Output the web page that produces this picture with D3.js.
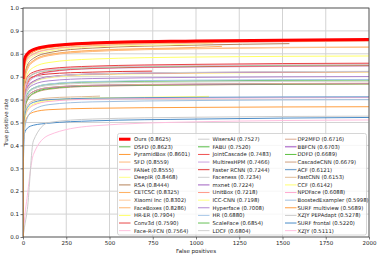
<!DOCTYPE html>
<html><head><meta charset="utf-8">
<script src="https://cdn.jsdelivr.net/npm/d3@7"></script>
<style>body{margin:0;background:#fff} svg{display:block} text{font-family:"DejaVu Sans",sans-serif;fill:#222}</style>
</head><body><svg id="c" width="382" height="255"></svg>
<script>
const methods = ["Ours","DSFD","PyramidBox","SFD","FANet","DeepIR","RSA","CETCSC","Xiaomi Inc","FaceBoxes","HR-ER","Conv3d","Face-R-FCN",
  "WisersAI","FABU","JointCascade","MultiresHPM","Faster RCNN","Faceness","mxnet","UnitBox","ICC-CNN","Hyperface","HR","ScaleFace","LDCF",
  "DP2MFD","BBFCN","DDFD","CascadeCNN","ACF","FastCNN","CCF","NPDFace","BoostedExampler","SURF multiview","XZJY PEPAdapt","SURF frontal","XZJY"];
const scores = [0.8625,0.8623,0.8601,0.8559,0.8555,0.8468,0.8444,0.8325,0.8302,0.8286,0.7904,0.7590,0.7564,
  0.7527,0.7520,0.7483,0.7466,0.7244,0.7234,0.7224,0.7218,0.7198,0.7008,0.6880,0.6854,0.6804,
  0.6716,0.6703,0.6689,0.6679,0.6121,0.6153,0.6142,0.6088,0.5998,0.5689,0.5278,0.5220,0.5111];
const fpGrid = [0,2,8,25,60,150,400,1000,2000];
const tpr = [
  [0.69,0.74,0.775,0.80,0.818,0.834,0.847,0.856,0.8625],
  [0.66,0.72,0.765,0.795,0.815,0.832,0.846,0.855,0.8623],
  [0.0,0.60,0.74,0.785,0.808,0.827,0.842,0.852,0.8601],
  [0.62,0.70,0.75,0.78,0.80,0.82,0.836,0.848,0.8559],
  [0.60,0.68,0.74,0.775,0.797,0.818,0.835,0.847,0.8555],
  [0.55,0.65,0.72,0.765,0.79,0.812,0.83,0.843,null],
  [0.50,0.62,0.70,0.75,0.78,0.805,0.825,0.838,null],
  [0.0,0.55,0.68,0.74,0.77,0.797,0.815,0.828,null],
  [0.50,0.60,0.68,0.74,0.77,0.795,0.813,0.824,0.8302],
  [0.45,0.58,0.67,0.73,0.765,0.792,0.81,0.822,0.8286],
  [0.55,0.62,0.67,0.71,0.74,0.762,0.777,0.786,0.7904],
  [0.50,0.60,0.66,0.70,0.72,0.735,0.746,0.754,0.7590],
  [0.48,0.58,0.64,0.69,0.715,0.732,0.744,0.751,0.7564],
  [0.45,0.56,0.63,0.68,0.71,0.728,0.74,0.748,0.7527],
  [0.50,0.60,0.65,0.69,0.712,0.728,0.74,0.747,0.7520],
  [0.45,0.55,0.62,0.67,0.70,0.722,0.736,0.744,0.7483],
  [0.40,0.52,0.60,0.66,0.695,0.72,0.735,0.742,0.7466],
  [0.50,0.60,0.65,0.68,0.70,0.712,0.72,null,null],
  [0.40,0.50,0.58,0.64,0.675,0.698,0.712,0.719,0.7234],
  [0.45,0.55,0.61,0.655,0.68,0.70,0.712,0.718,0.7224],
  [0.42,0.53,0.60,0.65,0.678,0.698,0.711,0.717,0.7218],
  [0.40,0.52,0.59,0.645,0.675,0.695,0.708,0.715,0.7198],
  [0.45,0.55,0.60,0.64,0.665,0.682,0.692,0.697,0.7008],
  [0.40,0.50,0.57,0.62,0.65,0.668,0.679,0.685,0.6880],
  [0.42,0.52,0.58,0.625,0.65,0.667,0.677,0.682,0.6854],
  [0.38,0.50,0.57,0.62,0.645,0.662,0.672,0.677,0.6804],
  [0.40,0.50,0.56,0.61,0.635,0.653,0.663,0.668,0.6716],
  [0.42,0.52,0.57,0.61,0.635,0.652,0.662,0.667,0.6703],
  [0.38,0.49,0.55,0.60,0.628,0.648,0.66,0.665,0.6689],
  [0.35,0.47,0.54,0.595,0.625,0.645,0.658,0.664,0.6679],
  [0.35,0.45,0.52,0.565,0.588,0.60,0.606,0.61,0.6121],
  [0.30,0.45,0.53,0.575,0.595,0.607,0.614,null,null],
  [0.30,0.42,0.50,0.555,0.58,0.597,0.607,0.613,null],
  [0.30,0.42,0.50,0.55,0.575,0.592,0.602,0.606,0.6088],
  [0.25,0.38,0.46,0.52,0.555,0.578,0.59,0.596,0.5998],
  [0.0,0.38,0.48,0.525,0.545,0.556,0.562,0.566,0.5689],
  [0.0,0.01,0.04,0.12,0.42,0.50,0.515,0.523,0.5278],
  [0.0,0.30,0.45,0.475,0.488,0.497,0.507,0.515,0.5220],
  [0.0,0.01,0.07,0.18,0.36,0.445,0.485,0.503,0.5111]
];
const tailFP = {"DeepIR":1100,"RSA":1540,"CETCSC":1150,"Faster RCNN":746,"FastCNN":445,"CCF":1075};
const tailTPR = {"DeepIR":0.8468,"RSA":0.8444,"CETCSC":0.8325,"Faster RCNN":0.7244,"FastCNN":0.6153,"CCF":0.6142};
const xTicks = [0,250,500,750,1000,1250,1500,1750,2000];
const yTicks = [0,0.1,0.2,0.3,0.4,0.5,0.6,0.7,0.8,0.9,1.0];
const colors = ["#ff0000","#66bb55","#ff9a33","#ffb87a","#f4a6c8","#ffff88","#b5825a","#ffb060","#ffc898","#ffb46e","#ffff66","#e84848","#ffc0dd",
  "#cccccc","#55bb44","#f05050","#c9a3e0","#e03838","#cfcfcf","#a060c0","#ff9a8a","#ffff80","#b088d0","#a8c8e8","#66c055","#d0d0d0",
  "#d8a890","#9c4fc0","#5cc040","#cfa080","#5f95c8","#e0bc98","#ffff70","#ffaad0","#a0c0e0","#ff9f40","#cccccc","#4a8cc8","#ffbfdf"];

const svg = d3.select("#c");
const L=23,R=369,T=8,B=237;
const x = d3.scaleLinear().domain([0,2000]).range([L,R]);
const y = d3.scaleLinear().domain([0,1]).range([B,T]);

// grid
svg.append("g").selectAll("line").data(xTicks).join("line")
  .attr("x1",d=>x(d)).attr("x2",d=>x(d)).attr("y1",T).attr("y2",B)
  .attr("stroke","#d3d3d3").attr("stroke-width",1);
svg.append("g").selectAll("line").data(yTicks).join("line")
  .attr("y1",d=>y(d)).attr("y2",d=>y(d)).attr("x1",L).attr("x2",R)
  .attr("stroke","#d3d3d3").attr("stroke-width",1);

svg.append("clipPath").attr("id","clip").append("rect").attr("x",L).attr("y",T).attr("width",R-L).attr("height",B-T);

const line = d3.line().x(d=>x(d[0])).y(d=>y(d[1])).curve(d3.curveMonotoneX);
const series = methods.map((m,i)=>{
  const pts=[];
  fpGrid.forEach((f,j)=>{ if(tpr[i][j]!==null) pts.push([f,tpr[i][j]]); });
  if(tailFP[m]!==undefined) pts.push([tailFP[m],tailTPR[m]]);
  return {m,i,pts};
});
const g = svg.append("g").attr("clip-path","url(#clip)");
const order = series.slice(1).reverse().concat([series[0]]);
g.selectAll("path").data(order).join("path")
  .attr("d",d=>line(d.pts)).attr("fill","none")
  .attr("stroke",d=>colors[d.i]).attr("stroke-width",d=>d.i===0?3:1);

// spines
svg.append("rect").attr("x",L).attr("y",T).attr("width",R-L).attr("height",B-T)
  .attr("fill","none").attr("stroke","#444").attr("stroke-width",0.8);

// axes
const xa = svg.append("g").attr("transform",`translate(0,${B})`)
  .call(d3.axisBottom(x).tickValues(xTicks).tickSize(2.5).tickPadding(1.5).tickFormat(d3.format("d")));
const ya = svg.append("g").attr("transform",`translate(${L},0)`)
  .call(d3.axisLeft(y).tickValues(yTicks).tickSize(2.5).tickPadding(1.5).tickFormat(d3.format(".1f")));
[xa,ya].forEach(a=>{a.select(".domain").remove();a.selectAll("line").attr("stroke","#444").attr("stroke-width",0.7);
  a.selectAll("text").attr("font-size",5.5).attr("font-family","DejaVu Sans").attr("fill","#222");});

svg.append("text").attr("x",(L+R)/2).attr("y",253).attr("text-anchor","middle").attr("font-size",5.5).text("False positives");
svg.append("text").attr("transform",`translate(8,${(T+B)/2}) rotate(-90)`).attr("text-anchor","middle").attr("font-size",5.5).text("True positive rate");

// legend
const lg = svg.append("g");
lg.append("rect").attr("x",117.5).attr("y",133.5).attr("width",249).attr("height",101.5).attr("rx",2)
  .attr("fill","#fff").attr("fill-opacity",0.8).attr("stroke","#ccc").attr("stroke-width",0.8);
const colLineX=[119,198,285], colTextX=[134,212.5,297.5];
series.forEach(s=>{
  const c=Math.floor(s.i/13), r=s.i%13;
  const yy=139.2+r*7.62;
  lg.append("line").attr("x1",colLineX[c]).attr("x2",colLineX[c]+11.5).attr("y1",yy).attr("y2",yy)
    .attr("stroke",colors[s.i]).attr("stroke-width",s.i===0?3:1);
  lg.append("text").attr("x",colTextX[c]).attr("y",yy+1.9).attr("font-size",5.3)
    .text(`${s.m} (${scores[s.i].toFixed(4)})`);
});
</script></body></html>
